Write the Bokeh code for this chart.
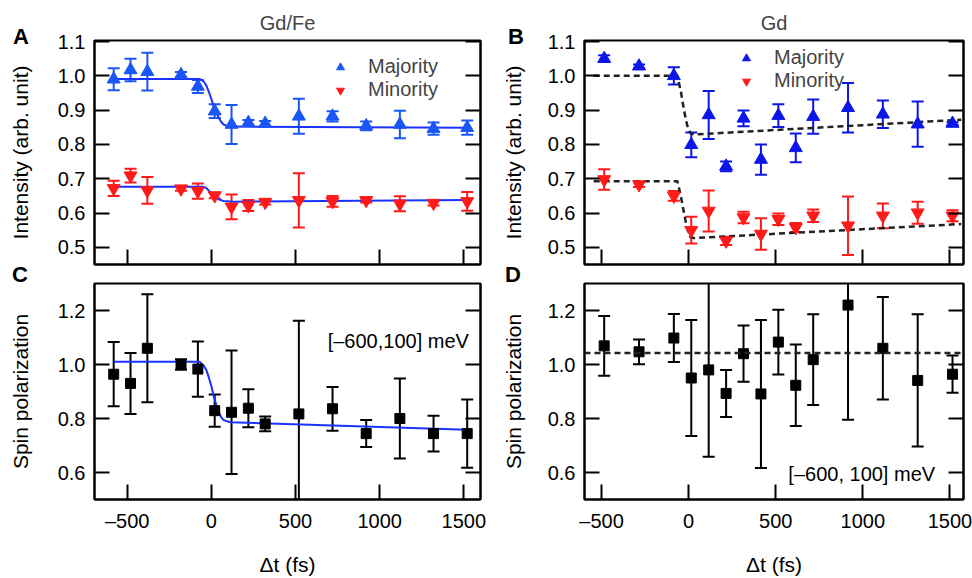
from bokeh.plotting import figure
from bokeh.models import (Range1d, LinearAxis, FixedTicker, Label, Legend,
                          LegendItem, Span, Div)
from bokeh.layouts import column, row
from bokeh.embed import file_html
from bokeh.resources import INLINE

FONT = "Liberation Sans"

# ---------------- data ----------------
# Gd/Fe panels (A, C)
t_gdfe = [-580, -480, -380, -180, -80, 20, 120, 220, 320, 520, 720, 920, 1120, 1320, 1520]
a_maj = [0.990, 1.017, 1.012, 1.003, 0.969, 0.897, 0.858, 0.863, 0.861, 0.882, 0.882, 0.854, 0.858, 0.846, 0.849]
a_maj_err = [0.032, 0.033, 0.055, 0.008, 0.019, 0.020, 0.057, 0.008, 0.007, 0.051, 0.015, 0.013, 0.040, 0.018, 0.021]
a_min = [0.672, 0.709, 0.666, 0.671, 0.664, 0.651, 0.618, 0.622, 0.632, 0.637, 0.634, 0.637, 0.627, 0.629, 0.634]
a_min_err = [0.022, 0.020, 0.039, 0.006, 0.022, 0.008, 0.036, 0.016, 0.007, 0.079, 0.016, 0.006, 0.022, 0.007, 0.027]

a_fit_maj_t = [-580, -70, -46, -30, -16, 0, 14, 30, 44, 58, 73, 103, 1520]
a_fit_maj = [0.991, 0.991, 0.984, 0.972, 0.955, 0.933, 0.911, 0.893, 0.878, 0.866, 0.858, 0.852, 0.849]
a_fit_min_t = [-580, -50, -30, -16, 0, 14, 30, 44, 73, 133, 1520]
a_fit_min = [0.677, 0.677, 0.673, 0.666, 0.658, 0.651, 0.645, 0.640, 0.635, 0.633, 0.638]

c_sp = [0.964, 0.930, 1.060, 1.000, 0.983, 0.829, 0.823, 0.838, 0.780, 0.817, 0.836, 0.744, 0.800, 0.744, 0.744]
c_sp_err = [0.119, 0.113, 0.200, 0.019, 0.102, 0.060, 0.229, 0.070, 0.027, 0.345, 0.081, 0.050, 0.148, 0.066, 0.126]
c_fit_t = [-580, -70, -46, -30, -16, 0, 14, 30, 44, 58, 73, 113, 1520]
c_fit = [1.010, 1.010, 0.996, 0.980, 0.955, 0.920, 0.883, 0.850, 0.824, 0.805, 0.794, 0.786, 0.758]

# Gd panels (B, D)
t_gd = [-485, -285, -85, 15, 115, 215, 315, 415, 515, 615, 715, 915, 1115, 1315, 1515]
b_maj = [1.050, 1.028, 1.000, 0.799, 0.886, 0.736, 0.876, 0.756, 0.884, 0.790, 0.881, 0.907, 0.888, 0.859, 0.861]
b_maj_err = [0.010, 0.005, 0.025, 0.036, 0.070, 0.014, 0.023, 0.044, 0.033, 0.042, 0.050, 0.072, 0.040, 0.066, 0.004]
b_min = [0.698, 0.683, 0.650, 0.550, 0.606, 0.519, 0.587, 0.539, 0.582, 0.558, 0.592, 0.563, 0.592, 0.601, 0.592]
b_min_err = [0.030, 0.007, 0.014, 0.039, 0.060, 0.012, 0.017, 0.046, 0.017, 0.013, 0.018, 0.085, 0.036, 0.032, 0.016]

b_fit_t = [-545, -65, -45, -25, -8, 10, 30, 1565]
b_fit_maj = [1.000, 1.000, 0.955, 0.895, 0.855, 0.833, 0.829, 0.872]
b_fit_min = [0.693, 0.693, 0.650, 0.595, 0.553, 0.530, 0.527, 0.568]

d_sp = [1.069, 1.047, 1.098, 0.950, 0.980, 0.893, 1.040, 0.891, 1.083, 0.923, 1.018, 1.220, 1.060, 0.941, 0.964]
d_sp_err = [0.111, 0.046, 0.089, 0.215, 0.322, 0.087, 0.104, 0.274, 0.120, 0.151, 0.168, 0.425, 0.190, 0.245, 0.069]
d_level = 1.043

x_ticks = [-500, 0, 500, 1000, 1500]
x_tick_labels = {-500: "\u2013500", 0: "0", 500: "500", 1000: "1000", 1500: "1500"}
int_ticks = [0.5, 0.6, 0.7, 0.8, 0.9, 1.0, 1.1]
int_tick_labels = {v: "%.1f" % v for v in int_ticks}
sp_ticks = [0.6, 0.8, 1.0, 1.2]
sp_tick_labels = {v: "%.1f" % v for v in sp_ticks}

panel_letters = ["A", "B", "C", "D"]

BLUE_A = "#1a55f5"
BLUE_B = "#0c16e8"
RED = "#ff1a1a"
FIT_BLUE = "#1a32ff"
DASH_COL = "#222222"


def make_fig(width, height, xr, yr, mbl, mbr, mbt, mbb, yticks, ylabels,
             ylabel, ylabel_standoff, xlabels_on):
    p = figure(width=width, height=height, x_range=Range1d(*xr),
               y_range=Range1d(*yr), output_backend="svg",
               toolbar_location=None, x_axis_location=None,
               y_axis_location=None, min_border_left=mbl,
               min_border_right=mbr, min_border_top=mbt,
               min_border_bottom=mbb)
    p.grid.grid_line_color = None
    p.outline_line_color = "black"
    p.outline_line_width = 2
    p.background_fill_color = "white"
    p.border_fill_color = "white"

    def style(ax, labels_on):
        ax.major_tick_in = 15
        ax.major_tick_out = 0
        ax.major_tick_line_width = 2
        ax.minor_tick_line_color = None
        ax.axis_line_width = 2
        ax.major_label_text_font = FONT
        if labels_on:
            ax.major_label_text_font_size = "20px"
            ax.major_label_text_color = "black"
        else:
            ax.major_label_text_font_size = "1px"
            ax.major_label_text_color = None
            ax.major_label_standoff = 0
        ax.axis_label_text_font = FONT
        ax.axis_label_text_font_size = "21px"
        ax.axis_label_text_font_style = "normal"
        ax.axis_label_text_color = "black"

    left = LinearAxis(ticker=FixedTicker(ticks=yticks),
                      major_label_overrides=ylabels, axis_label=ylabel)
    style(left, True)
    left.major_label_standoff = 9
    left.axis_label_standoff = ylabel_standoff
    p.add_layout(left, "left")

    right = LinearAxis(ticker=FixedTicker(ticks=yticks))
    style(right, False)
    p.add_layout(right, "right")

    below = LinearAxis(ticker=FixedTicker(ticks=x_ticks),
                       major_label_overrides=x_tick_labels)
    style(below, xlabels_on)
    if xlabels_on:
        below.axis_label = "\u0394t (fs)"
        below.major_label_standoff = 10
        below.axis_label_standoff = 18
    p.add_layout(below, "below")
    return p


def errorbars(p, t, y, err, color):
    lo = [a - b for a, b in zip(y, err)]
    hi = [a + b for a, b in zip(y, err)]
    p.segment(x0=t, y0=lo, x1=t, y1=hi, line_color=color, line_width=2)
    p.scatter(t, lo, marker="dash", size=12, line_color=color, line_width=2)
    p.scatter(t, hi, marker="dash", size=12, line_color=color, line_width=2)


def legend(p, r1, r2, loc):
    lg = Legend(items=[LegendItem(label="Majority", renderers=[r1]),
                       LegendItem(label="Minority", renderers=[r2])],
                location=loc, border_line_color=None,
                background_fill_alpha=0, padding=0, margin=0, spacing=0,
                glyph_width=20, glyph_height=20, label_standoff=18,
                label_text_font=FONT, label_text_font_size="20px")
    p.add_layout(lg)


def title(p, txt):
    p.title.text = txt
    p.title.align = "center"
    p.title.text_font = FONT
    p.title.text_font_size = "20px"
    p.title.text_font_style = "normal"
    p.title.standoff = 14


XR_A = (-694, 1599)
XR_B = (-598, 1578)
YR_I = (0.45, 1.103)
YR_S = (0.5, 1.3)

# ---------- Panel A ----------
pA = make_fig(498, 266, XR_A, YR_I, 94, 18, 40, 2, int_ticks, int_tick_labels,
              "Intensity (arb. unit)", 23, False)
title(pA, "Gd/Fe")
errorbars(pA, t_gdfe, a_maj, a_maj_err, BLUE_A)
errorbars(pA, t_gdfe, a_min, a_min_err, RED)
pA.line(a_fit_maj_t, a_fit_maj, line_color=FIT_BLUE, line_width=2)
pA.line(a_fit_min_t, a_fit_min, line_color=FIT_BLUE, line_width=2)
rA1 = pA.scatter(t_gdfe, a_maj, marker="triangle", size=13, fill_color=BLUE_A,
                 line_color=BLUE_A)
rA2 = pA.scatter(t_gdfe, a_min, marker="inverted_triangle", size=13,
                 fill_color=RED, line_color=RED)
legend(pA, rA1, rA2, (236, 163))

# ---------- Panel B ----------
pB = make_fig(474, 266, XR_B, YR_I, 82, 9, 40, 2, int_ticks, int_tick_labels,
              "Intensity (arb. unit)", 20, False)
title(pB, "Gd")
errorbars(pB, t_gd, b_maj, b_maj_err, BLUE_B)
errorbars(pB, t_gd, b_min, b_min_err, RED)
pB.line(b_fit_t, b_fit_maj, line_color=DASH_COL, line_width=2.5, line_dash="6 4")
pB.line(b_fit_t, b_fit_min, line_color=DASH_COL, line_width=2.5, line_dash="6 4")
rB1 = pB.scatter(t_gd, b_maj, marker="triangle", size=13, fill_color=BLUE_B,
                 line_color=BLUE_B)
rB2 = pB.scatter(t_gd, b_min, marker="inverted_triangle", size=13,
                 fill_color=RED, line_color=RED)
legend(pB, rB1, rB2, (152, 172))

# ---------- Panel C ----------
pC = make_fig(498, 312, XR_A, YR_S, 94, 18, 17, 72, sp_ticks, sp_tick_labels,
              "Spin polarization", 23, True)
errorbars(pC, t_gdfe, c_sp, c_sp_err, "black")
pC.line(c_fit_t, c_fit, line_color=FIT_BLUE, line_width=2)
pC.scatter(t_gdfe, c_sp, marker="square", size=10, fill_color="black",
           line_color="black")
pC.add_layout(Label(x=1530, y=1.087, text="[\u2013600,100] meV", text_font=FONT,
                    text_font_size="20px", text_align="right",
                    text_baseline="middle", text_color="black"))

# ---------- Panel D ----------
pD = make_fig(474, 312, XR_B, YR_S, 82, 9, 17, 72, sp_ticks, sp_tick_labels,
              "Spin polarization", 20, True)
errorbars(pD, t_gd, d_sp, d_sp_err, "black")
pD.add_layout(Span(location=d_level, dimension="width", line_color=DASH_COL,
                   line_width=2.5, line_dash="6 4"))
pD.scatter(t_gd, d_sp, marker="square", size=10, fill_color="black",
           line_color="black")
pD.add_layout(Label(x=1415, y=0.595, text="[\u2013600, 100] meV", text_font=FONT,
                    text_font_size="20px", text_align="right",
                    text_baseline="middle", text_color="black"))

# ---------- panel letters (overlay, outside the plot frames) ----------
letter_pos = [(8, 9), (503, 9), (7, 247), (500, 247)]
spans = "".join(
    '<span style="position:absolute;left:%dpx;top:%dpx">%s</span>' % (x, y, t)
    for t, (x, y) in zip(panel_letters, letter_pos))
letters = Div(
    text='<div style="position:relative;font-family:\'Liberation Sans\';'
         'font-weight:bold;font-size:22px;line-height:1;color:black">'
         + spans + '</div>',
    styles={"position": "absolute", "left": "0px", "top": "0px",
            "z-index": "10", "pointer-events": "none"})

layout = column(row(pA, pB), row(pC, pD), letters)
open("out.html", "w").write(file_html(layout, INLINE))
